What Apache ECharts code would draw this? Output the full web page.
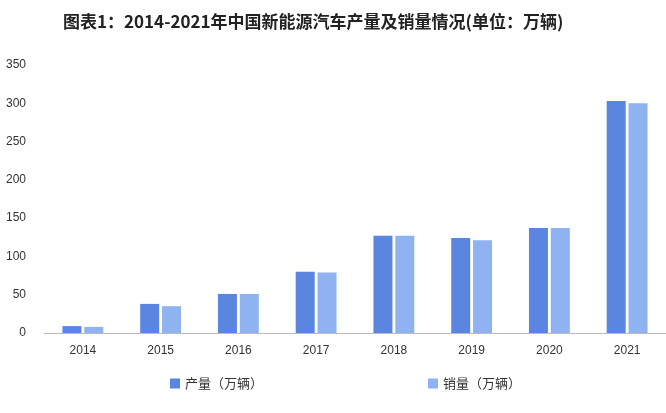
<!DOCTYPE html>
<html>
<head>
<meta charset="utf-8">
<script src="https://cdn.jsdelivr.net/npm/echarts@6/dist/echarts.min.js"></script>
<style>html,body{margin:0;padding:0;background:#fff;}</style>
</head>
<body>
<div id="chart" style="width:666px;height:413px;"></div>
<script>
// values
let years = ["2014", "2015", "2016", "2017", "2018", "2019", "2020", "2021"];
let production = [9, 38, 51, 80, 127, 124, 137, 303];
let sales = [8, 35, 51, 79, 127, 121, 137, 300];

let myChart = echarts.init(document.getElementById("chart"));
myChart.setOption({
    animation: false,
    title: {
        text: "图表1：2014-2021年中国新能源汽车产量及销量情况(单位：万辆)",
        left: 58,
        top: 8,
        textStyle: {fontSize: 17, fontWeight: "bold", color: "#222", fontFamily: "Noto Sans CJK SC"}
    },
    legend: {
        bottom: 18,
        left: 165,
        itemGap: 165,
        itemWidth: 10,
        itemHeight: 10,
        icon: "rect",
        textStyle: {fontSize: 13, color: "#333", fontFamily: "Noto Sans CJK SC"},
        data: ["产量（万辆）", "销量（万辆）"]
    },
    grid: {left: 44, right: -3, top: 65, bottom: 80},
    xAxis: {
        type: "category",
        data: years,
        axisTick: {show: false},
        axisLine: {lineStyle: {color: "#bbb"}},
        axisLabel: {color: "#333", fontSize: 12, margin: 12}
    },
    yAxis: {
        type: "value",
        min: 0,
        max: 350,
        interval: 50,
        axisLabel: {color: "#333", fontSize: 12, margin: 18},
        splitLine: {show: false}
    },
    series: [
        {name: "产量（万辆）", type: "bar", data: production, barWidth: 19, barGap: "15%",
            itemStyle: {color: "#5b86e0"}},
        {name: "销量（万辆）", type: "bar", data: sales, barWidth: 19,
            itemStyle: {color: "#8fb2f0"}}
    ]
});
</script>
</body>
</html>
